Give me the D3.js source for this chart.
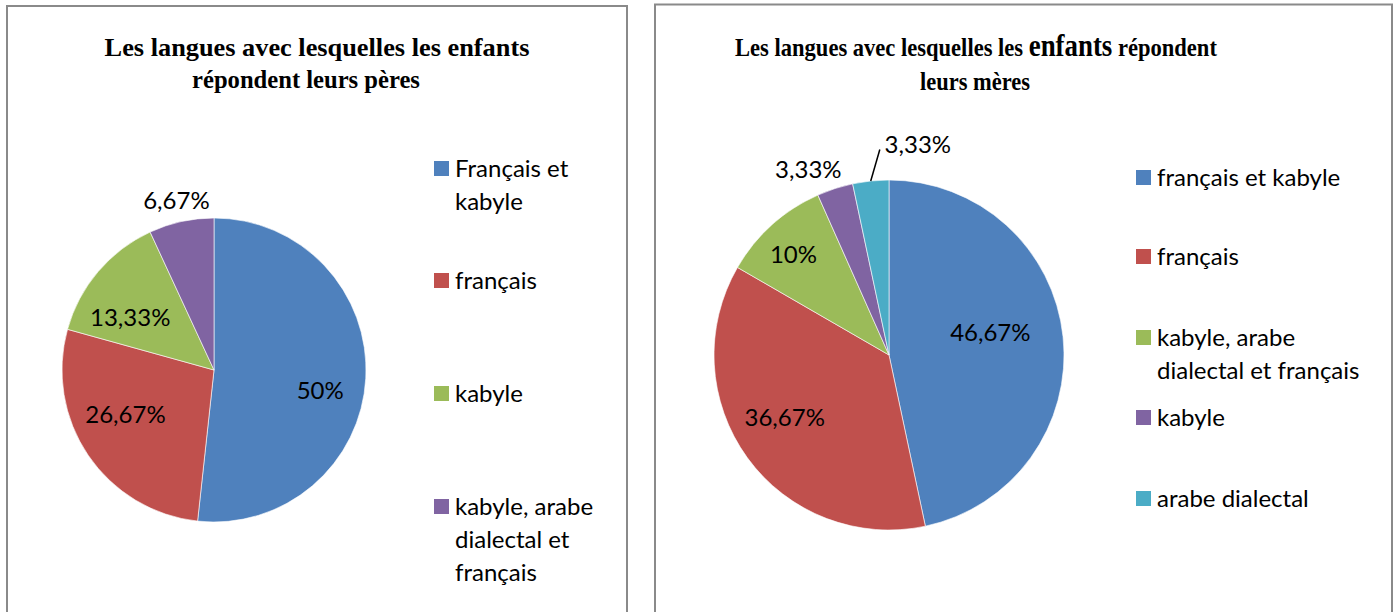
<!DOCTYPE html>
<html><head><meta charset="utf-8">
<script src="https://cdn.jsdelivr.net/npm/d3@7"></script>
<style>
html,body{margin:0;padding:0;background:#fff;}
svg{display:block;}
</style></head>
<body>
<svg id="chart" width="1394" height="612"></svg>
<script>
// ---- data ----
const peresCategories = ["Français et kabyle", "français", "kabyle", "kabyle, arabe dialectal et français"];
const peresValues = [50, 26.67, 13.33, 6.67];
const peresLabels = ["50%", "26,67%", "13,33%", "6,67%"];
const peresLegendLines = [["Français et", "kabyle"], ["français"], ["kabyle"], ["kabyle, arabe", "dialectal et", "français"]];

const meresCategories = ["français et kabyle", "français", "kabyle, arabe dialectal et français", "kabyle", "arabe dialectal"];
const meresValues = [46.67, 36.67, 10, 3.33, 3.33];
const meresLabels = ["46,67%", "36,67%", "10%", "3,33%", "3,33%"];
const meresLegendLines = [["français et kabyle"], ["français"], ["kabyle, arabe", "dialectal et français"], ["kabyle"], ["arabe dialectal"]];

const palette = ["#4F81BD", "#C0504D", "#9BBB59", "#8064A2", "#4BACC6"];

// ---- drawing ----
const svg = d3.select("#chart");
const serif = "'Liberation Serif','Times New Roman',serif";
const sans = "Lato, 'Open Sans', sans-serif";
const FS = 24;

// panels
svg.append("rect").attr("x", 7).attr("y", 6).attr("width", 620).attr("height", 640)
  .attr("fill", "#fff").attr("stroke", "#8a8a8a").attr("stroke-width", 2);
svg.append("rect").attr("x", 655).attr("y", 4.5).attr("width", 737).attr("height", 640)
  .attr("fill", "#fff").attr("stroke", "#8a8a8a").attr("stroke-width", 2);

function fitText(sel, cx, targetW) {
  const node = sel.node();
  const w = node.getComputedTextLength();
  const s = targetW / w;
  const y = +sel.attr("y");
  sel.attr("x", 0).attr("y", 0).attr("text-anchor", "middle")
     .attr("transform", `translate(${cx},${y}) scale(${s},1)`);
}

// titles
const t1 = svg.append("text").attr("y", 56).attr("font-family", serif).attr("font-weight", "bold")
  .attr("font-size", 26).attr("fill", "#000").text("Les langues avec lesquelles les enfants");
fitText(t1, 317, 425);
const t2 = svg.append("text").attr("y", 88).attr("font-family", serif).attr("font-weight", "bold")
  .attr("font-size", 26).attr("fill", "#000").text("répondent leurs pères");
fitText(t2, 306, 228);

const t3 = svg.append("text").attr("y", 56).attr("font-family", serif).attr("font-weight", "bold")
  .attr("font-size", 26).attr("fill", "#000");
t3.append("tspan").text("Les langues avec lesquelles les ");
t3.append("tspan").attr("font-size", 31).text("enfants");
t3.append("tspan").text(" répondent");
fitText(t3, 976, 482);
const t4 = svg.append("text").attr("y", 90).attr("font-family", serif).attr("font-weight", "bold")
  .attr("font-size", 26).attr("fill", "#000").text("leurs mères");
fitText(t4, 975, 110);

function drawPie(cfg) {
  const pie = d3.pie().sort(null).value(d => d)(cfg.values);
  const arc = d3.arc().innerRadius(0).outerRadius(cfg.r);
  const g = svg.append("g").attr("transform", `translate(${cfg.cx},${cfg.cy})`);
  g.selectAll("path").data(pie).join("path")
    .attr("d", arc).attr("fill", (d, i) => palette[i])
    .attr("stroke", "#fff").attr("stroke-width", 0.6);
  const inner = d3.arc().innerRadius(cfg.r * 0.68).outerRadius(cfg.r * 0.68);
  pie.forEach((d, i) => {
    const lay = cfg.labelLayout[i];
    let x, y;
    if (lay.outside) {
      const a = (d.startAngle + d.endAngle) / 2 + (lay.da || 0);
      x = Math.sin(a) * cfg.r * lay.outside + (lay.dx || 0);
      y = -Math.cos(a) * cfg.r * lay.outside + (lay.dy || 0);
    } else {
      const c = inner.centroid(d);
      x = c[0] + lay.dx; y = c[1] + lay.dy;
    }
    if (lay.leader) {
      const a = (d.startAngle + d.endAngle) / 2;
      g.append("line")
        .attr("x1", Math.sin(a) * cfg.r).attr("y1", -Math.cos(a) * cfg.r)
        .attr("x2", x - 38).attr("y2", y + 6)
        .attr("stroke", "#000").attr("stroke-width", 1.5);
    }
    g.append("text").attr("x", x).attr("y", y).attr("text-anchor", "middle")
      .attr("dominant-baseline", "central")
      .attr("font-family", sans).attr("font-size", FS).attr("fill", "#000")
      .text(cfg.labels[i]);
  });
  // legend
  cfg.legendLines.forEach((lines, i) => {
    const by = cfg.legendY[i];
    svg.append("rect").attr("x", cfg.lx).attr("y", by - 16).attr("width", 15).attr("height", 15)
      .attr("fill", palette[i]);
    lines.forEach((ln, j) => {
      svg.append("text").attr("x", cfg.lx + 21).attr("y", by + j * 33)
        .attr("font-family", sans).attr("font-size", FS).attr("fill", "#000").text(ln);
    });
  });
}

drawPie({
  cx: 214, cy: 370, r: 152, values: peresValues, labels: peresLabels,
  labelLayout: [{dx: 3, dy: 14}, {dx: -3, dy: -15}, {dx: -5, dy: 13}, {outside: 1.15}],
  legendLines: peresLegendLines, lx: 434, legendY: [177, 289, 402, 515]
});
drawPie({
  cx: 889, cy: 355, r: 175, values: meresValues, labels: meresLabels,
  labelLayout: [{dx: -17, dy: -11}, {dx: -8, dy: -8}, {dx: -16, dy: -13},
                {outside: 1.16, dx: -18, dy: 7}, {outside: 1.22, da: 0.24, leader: true}],
  legendLines: meresLegendLines, lx: 1136, legendY: [186, 265, 346, 426, 507]
});
</script>
</body></html>
